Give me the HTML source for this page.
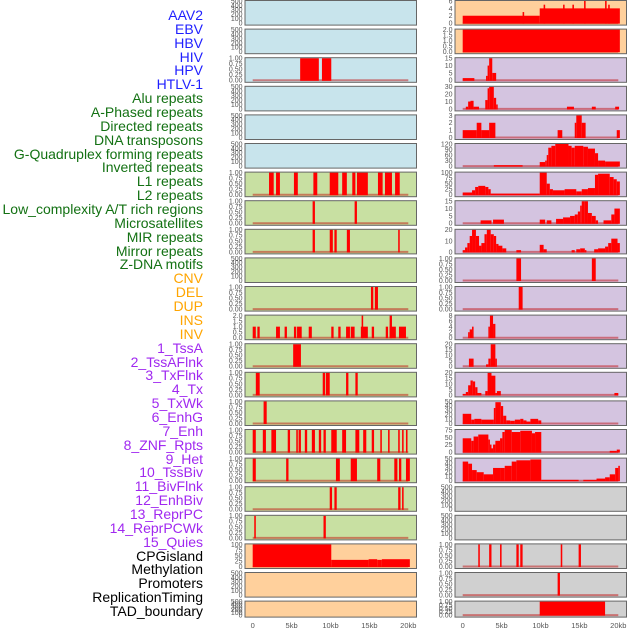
<!DOCTYPE html>
<html><head><meta charset="utf-8"><style>
body{margin:0;background:#fff;width:630px;height:630px;overflow:hidden;font-family:"Liberation Sans",sans-serif}
#lab div{position:absolute;right:427px;font-size:14px;line-height:14px;white-space:nowrap}
</style></head><body>
<div id="lab"></div>
<svg id="c" width="630" height="630" style="position:absolute;left:0;top:0"></svg>
<script>
const labels=["AAV2","EBV","HBV","HIV","HPV","HTLV-1","Alu repeats","A-Phased repeats","Directed repeats","DNA transposons","G-Quadruplex forming repeats","Inverted repeats","L1 repeats","L2 repeats","Low_complexity A/T rich regions","Microsatellites","MIR repeats","Mirror repeats","Z-DNA motifs","CNV","DEL","DUP","INS","INV","1_TssA","2_TssAFlnk","3_TxFlnk","4_Tx","5_TxWk","6_EnhG","7_Enh","8_ZNF_Rpts","9_Het","10_TssBiv","11_BivFlnk","12_EnhBiv","13_ReprPC","14_ReprPCWk","15_Quies","CPGisland","Methylation","Promoters","ReplicationTiming","TAD_boundary"];
const labelColors=["#1f1fff","#1f1fff","#1f1fff","#1f1fff","#1f1fff","#1f1fff","#137113","#137113","#137113","#137113","#137113","#137113","#137113","#137113","#137113","#137113","#137113","#137113","#137113","#ffa500","#ffa500","#ffa500","#ffa500","#ffa500","#a028f0","#a028f0","#a028f0","#a028f0","#a028f0","#a028f0","#a028f0","#a028f0","#a028f0","#a028f0","#a028f0","#a028f0","#a028f0","#a028f0","#a028f0","#000","#000","#000","#000","#000"];
const leftBg=["#c8e4ec","#c8e4ec","#c8e4ec","#c8e4ec","#c8e4ec","#c8e4ec","#c8e0a2","#c8e0a2","#c8e0a2","#c8e0a2","#c8e0a2","#c8e0a2","#c8e0a2","#c8e0a2","#c8e0a2","#c8e0a2","#c8e0a2","#c8e0a2","#c8e0a2","#ffd09c","#ffd09c","#ffd09c"];
const rightBg=["#ffd09c","#ffd09c","#d4c4e0","#d4c4e0","#d4c4e0","#d4c4e0","#d4c4e0","#d4c4e0","#d4c4e0","#d4c4e0","#d4c4e0","#d4c4e0","#d4c4e0","#d4c4e0","#d4c4e0","#d4c4e0","#d4c4e0","#d0d0d0","#d0d0d0","#d0d0d0","#d0d0d0","#d0d0d0"];
const T500=[0,100,200,300,400,500],T1=[0,0.25,0.5,0.75,1];
const leftTicks=[T500,T500,T1,T500,T500,T500,T1,T1,T1,T500,T1,[0,0.5,1,1.5,2],T1,T1,T1,T1,T1,T1,T1,[0,25,50,75,100],T500,T500];
const rightTicks=[[0,2,4,6],[0,0.5,1,1.5,2],[0,5,10,15],[0,10,20,30],[0,1,2,3],[0,30,60,90,120],[0,25,50,75,100],[0,5,10,15],[0,10,20],T1,T1,[0,2,4,6,8],[0,5,10,15,20],[0,5,10,15,20],[0,10,20,30,40,50],[0,25,50,75],[0,10,20,30,40,50],T500,T500,T1,T1,T1];
const rightMax=[6,2,15,30,3,120,100,15,25,1,1,8,23,23,57,88,52,500,500,1,1,1];
const leftMax=[500,500,1,500,500,500,1,1,1,500,1,2,1,1,1,1,1,1,1,100,500,500];
// segments [startKb,endKb,value]
const leftData=[[],[],
[[6.1,8.5,1],[8.9,10.1,1]],[],[],[],
[[2.1,2.7,1],[3.0,3.5,1],[5.3,5.8,1],[7.8,8.3,1],[9.9,11.0,1],[11.5,12.1,1],[12.8,13.2,1],[13.4,14.8,1],[16.1,16.7,1],[17.0,17.9,1],[18.3,18.9,1]],
[[7.7,8.0,1],[13.1,13.4,1]],
[[7.7,8.0,1],[9.9,10.3,1],[10.5,10.8,1],[12.1,12.5,1],[18.7,18.9,1]],
[],
[[15.2,15.5,1],[15.7,16.1,1]],
[[0,0.4,1],[0.6,0.9,1],[3.0,3.5,1],[4.1,4.4,1],[5.3,5.6,1],[5.7,6.3,1],[7.2,7.6,1],[10.1,10.4,1],[11.0,11.3,1],[12.0,12.5,1],[12.6,13.1,1],[13.9,14.8,1],[14.0,14.2,2],[15.3,15.6,1],[17.1,17.4,1],[17.6,18.4,1],[17.6,17.9,2],[18.8,19.7,1]],
[[5.2,6.2,1]],
[[0.4,0.9,1],[9.0,9.3,1],[9.4,9.9,1],[12.0,12.3,1],[13.2,13.5,1]],
[[1.4,1.8,1]],
[[0,0.4,1],[1.3,1.7,1],[2.4,3.0,1],[4.5,4.8,1],[5.6,5.8,1],[5.9,6.2,1],[6.7,7.0,1],[7.6,8.0,1],[8.5,8.8,1],[9.1,9.4,1],[10.1,10.8,1],[11.5,12.0,1],[13.2,13.7,1],[14.2,14.6,1],[15.3,15.6,1],[16.4,16.6,1],[17.4,17.6,1],[18.7,18.9,1],[19.2,19.4,1],[19.7,19.9,1]],
[[0,0.4,1],[4.3,4.6,1],[10.7,11.2,1],[12.6,13.4,1],[16.0,16.4,1],[18.2,18.6,1],[18.8,19.1,1],[19.7,20.2,1]],
[[9.9,10.2,1],[10.5,10.8,1],[18.7,19.0,1],[19.2,19.4,1]],
[[0.2,0.4,1],[9.1,9.4,1]],
[[0,10.1,100],[10.1,14.9,30],[14.9,16.0,33],[16.0,16.6,30],[16.6,20.2,33]],
[],[]];
const rightData=[
[[0,9.9,2],[7.7,7.9,3],[9.9,20.2,4],[10.4,10.6,5],[12.9,13.1,5],[14.1,14.3,5],[15.6,15.8,6],[18.3,18.5,6],[18.7,18.9,5]],
[[0,20.2,2]],
[[0,1.5,1.5],[3.0,3.2,3],[3.2,3.4,10],[3.4,3.8,15],[3.8,4.3,5]],
[[0.4,0.7,3],[0.7,1.0,10],[1.0,1.4,11],[1.4,2.1,3],[2.9,3.2,12],[3.2,3.4,28],[3.4,4.0,30],[4.0,4.3,15],[4.3,4.5,6],[13.4,14.3,3],[16.6,17.1,3],[19.6,20.1,3]],
[[0,1.8,1],[1.8,2.4,2],[2.4,3.4,1],[3.4,4.2,2],[12.2,12.8,1],[14.4,14.6,2],[14.6,15.3,3],[15.3,15.8,2],[19.8,20.2,1]],
[[4.0,7.7,5],[9.9,10.6,22],[10.6,10.8,30],[10.8,11.0,60],[11.0,11.4,100],[11.4,11.9,110],[11.9,13.6,120],[13.6,14.0,110],[14.0,14.4,100],[14.4,15.5,110],[15.5,16.1,105],[16.1,17.0,95],[17.0,17.4,70],[17.4,18.3,30],[18.3,20.2,25]],
[[0,1.2,10],[1.2,1.6,20],[1.6,2.0,35],[2.0,2.9,40],[2.9,3.3,35],[3.3,3.6,25],[3.6,9.9,5],[9.9,10.8,100],[10.8,11.2,50],[11.2,11.6,25],[11.6,13.1,20],[13.1,14.6,25],[14.6,15.3,15],[15.3,16.1,25],[16.1,17.0,30],[17.0,17.4,90],[17.4,18.9,95],[18.9,19.4,80],[19.4,19.8,70],[19.8,20.2,60]],
[[2.3,3.7,2],[3.9,5.3,2.5],[9.9,10.6,2.5],[10.8,11.4,2],[12.0,12.9,3],[12.9,13.8,4],[13.8,14.4,5],[14.4,14.8,6],[14.8,15.1,8],[15.1,15.3,12],[15.3,15.7,16],[15.7,16.1,15],[16.1,16.6,7],[16.6,17.1,5],[17.1,17.4,2],[18.1,19.1,2],[19.1,19.5,6],[19.5,20.2,10]],
[[0,0.3,2],[0.3,0.6,5],[0.6,0.9,10],[0.9,1.2,18],[1.2,1.7,26],[1.7,2.1,18],[2.1,2.4,7],[2.4,2.8,10],[2.8,3.1,20],[3.1,3.6,26],[3.6,4.0,20],[4.0,4.3,18],[4.3,4.6,9],[4.6,5.1,7],[5.1,5.6,4],[6.9,7.5,2],[9.9,10.4,8],[10.4,10.8,3],[14.0,14.4,2],[14.6,15.1,3],[15.1,15.7,4],[15.7,15.9,2],[16.9,17.4,3],[17.4,18.3,4],[18.3,18.7,6],[18.7,19.1,10],[19.1,19.9,15],[19.9,20.2,10]],
[[6.9,7.5,1],[16.6,17.1,1]],
[[7.2,7.7,1]],
[[0.7,0.9,2],[0.9,1.2,3],[1.2,1.4,4],[3.3,3.5,4],[3.5,3.9,8],[3.9,4.2,5]],
[[0.8,1.4,8],[3.0,3.3,2],[3.3,3.6,8],[3.6,4.2,24],[4.2,4.3,8]],
[[0,0.4,1],[0.4,0.7,3],[0.7,1.0,10],[1.0,1.3,15],[1.3,1.6,14],[1.6,1.9,8],[1.9,2.4,2],[2.9,3.2,4],[3.2,3.7,23],[3.7,4.2,20],[4.2,4.4,2],[4.4,4.9,4],[19.5,20.0,2]],
[[0,1.1,25],[1.1,1.5,10],[1.5,2.4,12],[2.4,4.0,10],[4.0,4.2,40],[4.2,4.9,55],[4.9,5.2,45],[5.2,5.6,20],[5.6,6.1,8],[6.1,6.7,7],[6.7,7.4,10],[7.4,7.8,12],[7.8,8.2,8],[8.2,8.7,5],[8.7,9.7,12],[9.7,10.1,8]],
[[0,1.1,55],[1.1,1.4,45],[1.4,2.0,62],[2.0,3.3,70],[3.3,3.5,50],[3.5,3.7,30],[3.7,3.9,15],[3.9,4.2,30],[4.2,4.8,45],[4.8,5.1,55],[5.1,5.4,80],[5.4,6.3,88],[6.3,7.4,80],[7.4,8.9,85],[8.9,9.3,75],[9.3,10.1,80],[18.9,19.8,5],[19.8,20.2,10]],
[[0,0.7,45],[0.7,1.2,40],[1.2,1.8,25],[1.8,2.7,20],[2.7,3.9,15],[3.9,4.8,30],[4.8,5.4,30],[5.4,6.3,35],[6.3,6.9,45],[6.9,8.7,48],[8.7,10.1,50],[10.1,14.9,2],[15.5,17.2,2],[17.2,18.3,5],[18.3,18.9,8],[18.9,19.6,15],[19.6,20.0,30],[20.0,20.2,35]],
[],[],
[[2.0,2.2,1],[3.4,3.7,1],[4.8,5.0,1],[6.9,7.2,1],[7.4,7.7,1],[12.6,12.8,1],[14.9,15.2,1]],
[[12.2,12.5,1]],
[[9.9,18.3,1]]];
const xTicks=[0,5,10,15,20],xTickLabels=["0","5kb","10kb","15kb","20kb"];

const NS="http://www.w3.org/2000/svg",svg=document.getElementById('c');
function mk(t,a,p){const e=document.createElementNS(NS,t);for(const k in a)e.setAttribute(k,a[k]);(p||svg).appendChild(e);return e;}
const lab=document.getElementById('lab');
labels.forEach((t,i)=>{const d=document.createElement('div');


d.style.top=(15+i*13.86-7)+'px';d.style.color=labelColors[i];d.textContent=t;lab.appendChild(d);});
const PX=[{x0:245,x1:416.5,d0:252.7},{x0:455,x1:626.5,d0:462.7}],KB=7.78;
function fmt(v,t){const mx=t[t.length-1];if(mx===1)return v.toFixed(2);if(mx===2)return v.toFixed(1);return String(v);}
function panel(side,r,bg,ticks,ymax,data){
  const P=PX[side],top=r*28.6,h=r===21?16:24.6,bot=top+h;
  const yt=top+1,yb=bot-1.5,ys=v=>yb-(yb-yt)*v/ymax,xs=k=>P.d0+k*KB;
  const g=mk('g',{});
  
  
  mk('rect',{x:P.x0,y:top+0.5,width:P.x1-P.x0,height:h,fill:bg},g);
  if(data.length){const bl=mk('line',{x1:xs(0),x2:xs(20),y1:yb,y2:yb,stroke:'rgba(190,0,0,0.45)','stroke-width':2},g);
    }
  data.forEach(s=>{const x=xs(s[0]),w=Math.max(1.5,xs(s[1])-x),y=ys(Math.min(s[2],ymax));
    const b=mk('rect',{x:x,y:y,width:w,height:yb-y+0.5,fill:'#ff0000'},g);
    });
  mk('rect',{x:P.x0,y:top+0.5,width:P.x1-P.x0,height:h,fill:'none',stroke:'#666','stroke-width':1},g);
  const tm=ticks[ticks.length-1];
  ticks.forEach(v=>{const yy=yb-(yb-yt)*v/tm;const tx=mk('text',{x:P.x0-2.5,y:yy+2.4,'text-anchor':'end','font-size':7,fill:'#555','font-family':'Liberation Sans, sans-serif'},g);
    tx.textContent=fmt(v,ticks);});
}
for(let r=0;r<22;r++){panel(0,r,leftBg[r],leftTicks[r],leftMax[r],leftData[r]);panel(1,r,rightBg[r],rightTicks[r],rightMax[r],rightData[r]);}
[0,1].forEach(s=>xTicks.forEach((k,i)=>{const t=mk('text',{x:PX[s].d0+k*KB,y:628,'text-anchor':'middle','font-size':7.5,fill:'#555','font-family':'Liberation Sans, sans-serif'});
 t.textContent=xTickLabels[i];}));
</script>
</body></html>
